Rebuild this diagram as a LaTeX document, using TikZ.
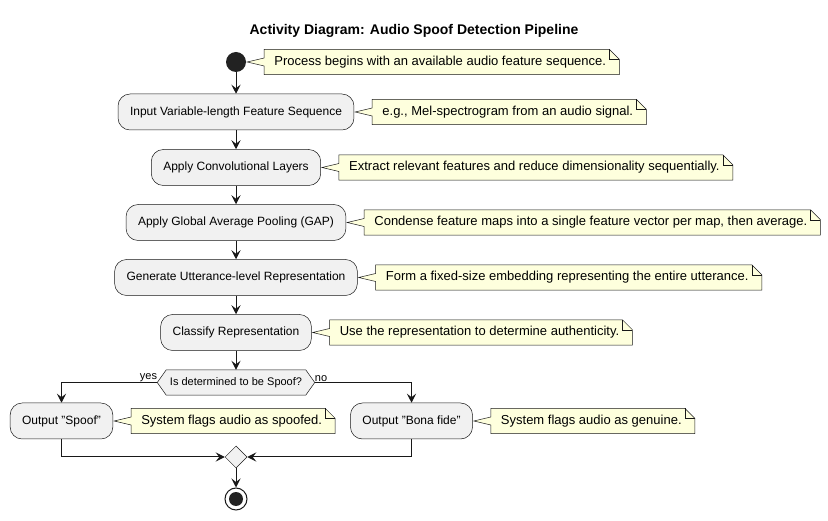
\documentclass[tikz,border=0pt]{standalone}
\usepackage{fontspec}
\setmainfont{Liberation Sans}
\usetikzlibrary{shapes.geometric,arrows.meta,calc}
\pgfdeclarelayer{back}
\pgfdeclarelayer{bg}
\pgfsetlayers{back,bg,main}
\definecolor{actfill}{HTML}{F1F1F1}
\definecolor{linec}{HTML}{181818}
\definecolor{notefill}{HTML}{FEFFDD}
\definecolor{startc}{HTML}{222222}
\tikzset{
 act/.style={rectangle, rounded corners=12pt, draw=linec, fill=actfill, line width=0.5pt, minimum height=36pt, inner xsep=12pt, font=\fontsize{12}{14}\selectfont},
 notetext/.style={anchor=west, minimum height=25pt, inner xsep=10pt, inner ysep=0pt, font=\fontsize{13}{15}\selectfont},
 noteshape/.style={draw=linec, fill=notefill, line width=0.5pt, line join=miter},
 arr/.style={draw=linec, line width=1pt, -{Stealth[length=9pt,width=9pt,inset=3.5pt]}},
 lbl/.style={font=\fontsize{11}{13}\selectfont, inner sep=1pt},
}
\newcommand{\mknote}[3]{%
 \node[notetext] (#1) at ([xshift=18pt]#2.east) {#3\hspace*{3pt}};
 \begin{pgfonlayer}{bg}
 \draw[noteshape] (#1.north west) -- ([xshift=-10pt]#1.north east) -- ([yshift=-10pt]#1.north east) -- (#1.south east) -- (#1.south west) -- ([yshift=-4pt]#1.west) -- ([xshift=1pt]#2.east) -- ([yshift=4pt]#1.west) -- cycle;
 \draw[noteshape, fill=none] ([xshift=-10pt]#1.north east) -- ([xshift=-10pt,yshift=-10pt]#1.north east) -- ([yshift=-10pt]#1.north east);
 \end{pgfonlayer}
}
\begin{document}
\begin{tikzpicture}[x=1pt,y=-1pt]
\begin{pgfonlayer}{back}
\fill[white] (0,0) rectangle (828,521);
\end{pgfonlayer}
\useasboundingbox (0,0) rectangle (828,521);
\node[font=\bfseries\fontsize{14}{16}\selectfont] (title) at (414,31) {Activity Diagram: Audio Spoof Detection Pipeline};
\node[circle, fill=startc, minimum size=20pt, inner sep=0pt] (start) at (236,62) {};
\node[act] (a1) at (236,112) {Input Variable-length Feature Sequence};
\node[act] (a2) at (236,167.5) {Apply Convolutional Layers};
\node[act] (a3) at (236,222.5) {Apply Global Average Pooling (GAP)};
\node[act] (a4) at (236,277.5) {Generate Utterance-level Representation};
\node[act] (a5) at (236,332.5) {Classify Representation};
\node[font=\fontsize{11}{13}\selectfont, inner xsep=3.5pt, inner ysep=0pt, minimum height=25pt] (dec) at (236,382.5) {Is determined to be Spoof?};
\coordinate (decL) at ([xshift=-9pt]dec.west);
\coordinate (decR) at ([xshift=9pt]dec.east);
\begin{pgfonlayer}{bg}
\filldraw[draw=linec, fill=actfill, line width=0.5pt] (dec.north west) -- (dec.north east) -- (decR) -- (dec.south east) -- (dec.south west) -- (decL) -- cycle;
\end{pgfonlayer}
\node[act] (spoof) at (61.5,421) {Output "Spoof"};
\node[act] (bona) at (411.5,421) {Output "Bona fide"};
\node[diamond, draw=linec, fill=actfill, line width=0.5pt, minimum width=22pt, minimum height=22pt, inner sep=0pt] (merge) at (236,457) {};
\node[circle, draw=linec, fill=white, line width=1pt, minimum size=22pt, inner sep=0pt] (end) at (236,499) {};
\node[circle, fill=startc, minimum size=14pt, inner sep=0pt] (endin) at (end.center) {};
\draw[arr] (start) -- (a1);
\draw[arr] (a1) -- (a2);
\draw[arr] (a2) -- (a3);
\draw[arr] (a3) -- (a4);
\draw[arr] (a4) -- (a5);
\draw[arr] (a5) -- (dec.north);
\draw[arr] (decL) -| (spoof.north);
\draw[arr] (decR) -| (bona.north);
\draw[arr] (spoof.south) |- (merge.west);
\draw[arr] (bona.south) |- (merge.east);
\draw[arr] (merge) -- (end);
\node[lbl, anchor=south east] (yes) at ([xshift=1pt]decL) {yes};
\node[lbl, anchor=south west] (no) at ([xshift=-1pt]decR) {no};
\mknote{n1}{start}{Process begins with an available audio feature sequence.}
\mknote{n2}{a1}{e.g., Mel-spectrogram from an audio signal.}
\mknote{n3}{a2}{Extract relevant features and reduce dimensionality sequentially.}
\mknote{n4}{a3}{Condense feature maps into a single feature vector per map, then average.}
\mknote{n5}{a4}{Form a fixed-size embedding representing the entire utterance.}
\mknote{n6}{a5}{Use the representation to determine authenticity.}
\mknote{n7}{spoof}{System flags audio as spoofed.}
\mknote{n8}{bona}{System flags audio as genuine.}
\end{tikzpicture}
\end{document}
